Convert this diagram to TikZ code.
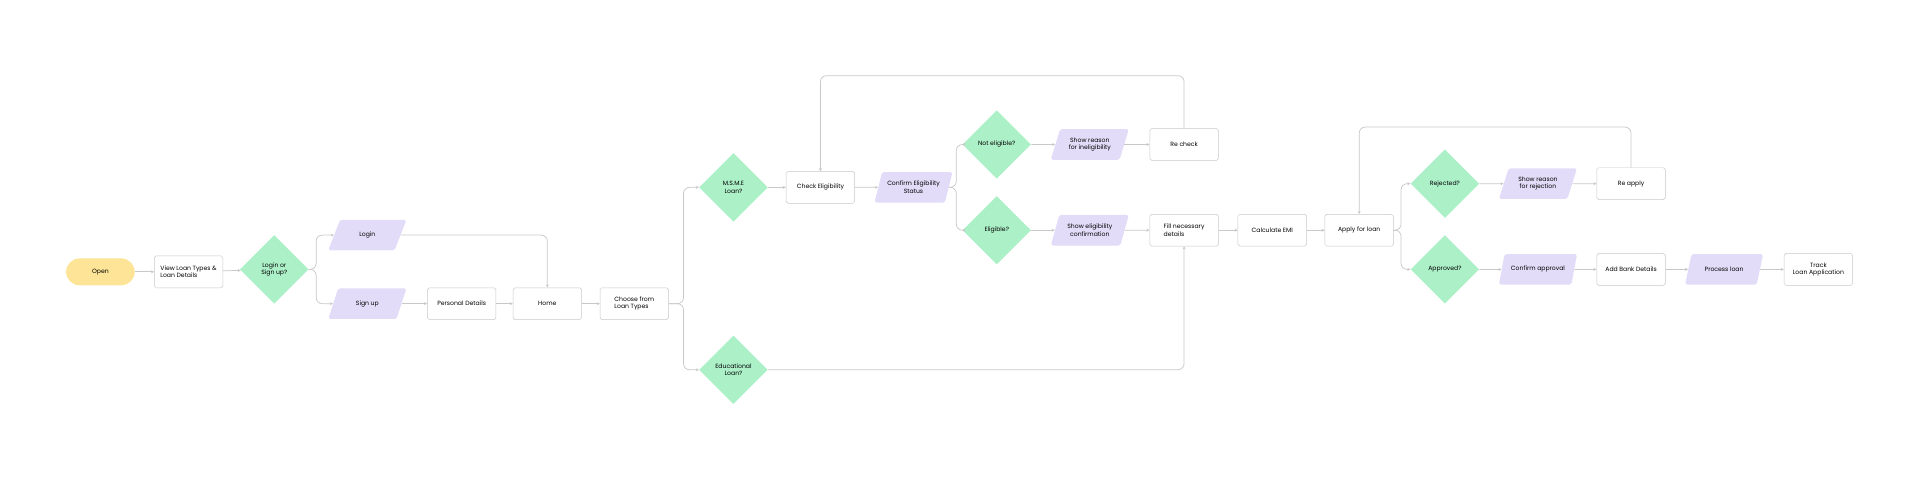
\documentclass[tikz,border=0pt]{standalone}
\usepackage{fontspec}
\setmainfont{Poppins}
\usetikzlibrary{shapes.geometric,arrows.meta,positioning}
\definecolor{mygreen}{RGB}{172,240,200}
\definecolor{mypurple}{RGB}{226,220,248}
\definecolor{myyellow}{RGB}{253,228,150}
\definecolor{myline}{RGB}{200,200,200}

\begin{document}
\begin{tikzpicture}[x=1pt,y=-1pt,
  every node/.style={font=\fontsize{5}{6}\selectfont,align=center},
  box/.style={draw=myline,rounded corners=1.5,fill=white,minimum width=56,minimum height=26},
  dec/.style={diamond,fill=mygreen,minimum width=56,minimum height=56,inner sep=0},
  io/.style={trapezium,trapezium left angle=70,trapezium right angle=110,trapezium stretches=true,
    fill=mypurple,rounded corners=1.5,minimum width=64,minimum height=25},
  term/.style={rectangle,fill=myyellow,rounded corners=11,minimum width=56,minimum height=22},
  flow/.style={draw=myline,line width=0.6pt,rounded corners=5,-{Stealth[length=2.5pt,width=2.5pt]}}]

  \useasboundingbox (0,0) rectangle (1568,406);

  % start and login
  \node[term] (open) at (82,222) {Open};
  \node[box,align=left] (view) at (154,222) {View Loan Types \&\\Loan Details};
  \node[dec] (login) at (224,220) {Login or\\Sign up?};
  \node[io] (in) at (300,192) {Login};
  \node[io] (signup) at (300,248) {Sign up};
  \node[box] (personal) at (377,248) {Personal Details};
  \node[box] (home) at (447,248) {Home};
  \node[box,align=left] (choose) at (518,248) {Choose from\\Loan Types};

  % eligibility
  \node[dec] (msme) at (599,153) {M.S.M.E\\Loan?};
  \node[dec] (edu) at (599,302) {Educational\\Loan?};
  \node[box] (check) at (670,153) {Check Eligibility};
  \node[io] (confirm) at (746,153) {Confirm Eligibility\\Status};
  \node[dec] (noteli) at (814,118) {Not eligible?};
  \node[dec] (eli) at (814,188) {Eligible?};
  \node[io] (reason) at (890,118) {Show reason\\for ineligibility};
  \node[io] (showeli) at (890,188) {Show eligibility\\confirmation};
  \node[box] (recheck) at (967,118) {Re check};
  \node[box,align=left] (fill) at (967,188) {Fill necessary\\details};
  \node[box] (emi) at (1039,188) {Calculate EMI};
  \node[box] (apply) at (1110,188) {Apply for loan};

  % approval
  \node[dec] (rej) at (1180,150) {Rejected?};
  \node[dec] (appr) at (1180,220) {Approved?};
  \node[io] (rejreason) at (1256,150) {Show reason\\for rejection};
  \node[box] (reapply) at (1332,150) {Re apply};
  \node[io] (confappr) at (1256,220) {Confirm approval};
  \node[box] (bank) at (1332,220) {Add Bank Details};
  \node[io] (process) at (1408,220) {Process loan};
  \node[box] (track) at (1485,220) {Track\\Loan Application};

  \path[flow] (open) -- (view);
  \path[flow] (view) -- (login);
  \path[flow] (login.east) -- ++(6,0) |- (in.west);
  \path[flow] (login.east) -- ++(6,0) |- (signup.west);
  \path[flow] (in.east) -| (home.north);
  \path[flow] (signup) -- (personal);
  \path[flow] (personal) -- (home);
  \path[flow] (home) -- (choose);
  \path[flow] (choose.east) -- ++(12,0) |- (msme.west);
  \path[flow] (choose.east) -- ++(12,0) |- (edu.west);
  \path[flow] (msme) -- (check);
  \path[flow] (check) -- (confirm);
  \path[flow] (confirm.east) -- ++(6,0) |- (noteli.west);
  \path[flow] (confirm.east) -- ++(6,0) |- (eli.west);
  \path[flow] (noteli) -- (reason);
  \path[flow] (reason) -- (recheck);
  \path[flow] (recheck.north) -- ++(0,-43) -| (check.north);
  \path[flow] (eli) -- (showeli);
  \path[flow] (showeli) -- (fill);
  \path[flow] (edu.east) -| (fill.south);
  \path[flow] (fill) -- (emi);
  \path[flow] (emi) -- (apply);
  \path[flow] (apply.east) -- ++(6,0) |- (rej.west);
  \path[flow] (apply.east) -- ++(6,0) |- (appr.west);
  \path[flow] (rej) -- (rejreason);
  \path[flow] (rejreason) -- (reapply);
  \path[flow] (reapply.north) -- ++(0,-33) -| (apply.north);
  \path[flow] (appr) -- (confappr);
  \path[flow] (confappr) -- (bank);
  \path[flow] (bank) -- (process);
  \path[flow] (process) -- (track);
\end{tikzpicture}
\end{document}
